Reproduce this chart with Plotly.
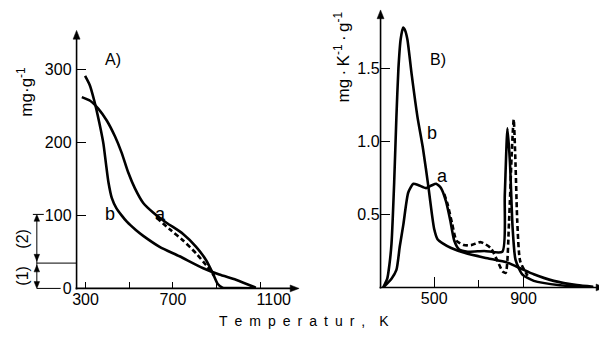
import plotly.graph_objects as go

W, H = 607, 342
OFF = 8  # page body margin offset in the browser

# ---------------- data ----------------
# Panel A: mass (mg/g) vs temperature (K)
A_b_T = [298, 320, 340, 355, 370, 382, 393, 405, 420, 441, 465, 490, 530, 564, 639, 730, 836, 912, 988, 1079]
A_b_v = [291, 278, 257, 238, 217, 198, 172, 145, 124, 110, 100, 91, 80, 72, 57, 44, 28, 19, 12, 1]

A_a_T = [283, 321, 359, 397, 435, 465, 495, 526, 564, 609, 670, 745, 806, 851, 882, 905, 927, 1000, 1080]
A_a_v = [262, 257, 246, 230, 208, 186, 159, 137, 117, 104, 90, 75, 57, 39, 21, 6, 1, 0.5, 0]

A_dash_T = [624, 685, 745, 806, 851, 889]
A_dash_v = [97, 81, 66, 48, 32, 17]

A_xticks = [300, 700, 1100]
A_xlabels = ["300", "700", "\u2007\u2007\u20071100"]
A_xminor = [500, 900]
A_yticks = [0, 100, 200, 300]
A_ylabels = ["0", "100", "200", "300"]

# Panel B: rate (mg/K/g) vs temperature (K)
B_b_T = [272, 290, 300, 309, 321, 331, 340, 350, 361, 370, 380, 400, 425, 450, 475, 490, 500, 515, 540, 576, 650, 739, 828, 887, 946, 1035, 1139, 1212]
B_b_v = [0, 0.06, 0.16, 0.30, 0.72, 1.17, 1.50, 1.70, 1.78, 1.76, 1.70, 1.45, 1.17, 0.95, 0.68, 0.50, 0.40, 0.33, 0.30, 0.27, 0.23, 0.20, 0.17, 0.13, 0.09, 0.045, 0.016, 0.005]

B_a_T = [272, 309, 331, 346, 362, 384, 407, 430, 464, 490, 509, 531, 553, 572, 590, 612, 650, 724, 805, 816, 828, 839, 851, 864, 894, 946, 1064, 1212]
B_a_v = [0, 0.06, 0.12, 0.28, 0.43, 0.65, 0.71, 0.70, 0.68, 0.70, 0.71, 0.68, 0.59, 0.46, 0.32, 0.26, 0.245, 0.25, 0.245, 0.63, 1.09, 0.86, 0.41, 0.19, 0.09, 0.045, 0.015, 0]

B_dash_T = [545, 560, 580, 600, 633, 665, 709, 753, 784, 806, 820, 835, 848, 856, 864, 872, 885, 918]
B_dash_v = [0.64, 0.57, 0.44, 0.32, 0.29, 0.29, 0.31, 0.27, 0.18, 0.11, 0.10, 0.45, 0.95, 1.15, 0.85, 0.45, 0.18, 0.08]

B_xticks = [500, 900]
B_xlabels = ["500", "900"]
B_xminor = [700]
B_yticks = [0.5, 1.0, 1.5]
B_ylabels = ["0.5", "1.0", "1.5"]

# ---------------- figure ----------------
FONT = "Liberation Sans"
LW = 2.6
line = dict(color="black", width=LW, shape="spline", smoothing=0.6)
dline = dict(color="black", width=LW, shape="spline", smoothing=0.6, dash="5px,3px")

fig = go.Figure()
fig.add_trace(go.Scatter(x=A_b_T, y=A_b_v, mode="lines", line=line, xaxis="x", yaxis="y"))
fig.add_trace(go.Scatter(x=A_a_T, y=A_a_v, mode="lines", line=line, xaxis="x", yaxis="y"))
fig.add_trace(go.Scatter(x=A_dash_T, y=A_dash_v, mode="lines", line=dline, xaxis="x", yaxis="y"))
fig.add_trace(go.Scatter(x=B_b_T, y=B_b_v, mode="lines", line=line, xaxis="x2", yaxis="y2"))
fig.add_trace(go.Scatter(x=B_a_T, y=B_a_v, mode="lines", line=line, xaxis="x2", yaxis="y2"))
fig.add_trace(go.Scatter(x=B_dash_T, y=B_dash_v, mode="lines", line=dline, xaxis="x2", yaxis="y2"))


def px(x):
    return (x - OFF) / W


def py(y):
    return 1 - (y - OFF) / H


tickfont = dict(family=FONT, size=16, color="black")
common = dict(showgrid=False, zeroline=False, showline=False, ticks="inside",
              tickcolor="black", tickwidth=1, tickfont=tickfont, fixedrange=True)

fig.update_layout(
    width=W, height=H, autosize=False,
    margin=dict(l=0, r=0, t=0, b=0),
    paper_bgcolor="white", plot_bgcolor="white",
    showlegend=False,
    xaxis=dict(domain=[px(73), px(295)], range=[259, 1268], anchor="y",
               tickmode="array", tickvals=A_xticks, ticktext=A_xlabels, ticklen=6,
               minor=dict(tickmode="array", tickvals=A_xminor, ticks="inside", ticklen=6,
                          tickcolor="black", showgrid=False), **common),
    yaxis=dict(domain=[py(296), py(33)], range=[0, 350.7], anchor="x", ticklabelstandoff=4,
               tickmode="array", tickvals=A_yticks, ticktext=A_ylabels, ticklen=9, **common),
    xaxis2=dict(domain=[px(379), px(603)], range=[260, 1256], anchor="y2",
                tickmode="array", tickvals=B_xticks, ticktext=B_xlabels, ticklen=10,
                minor=dict(tickmode="array", tickvals=B_xminor, ticks="inside", ticklen=7,
                           tickcolor="black", showgrid=False), **common),
    yaxis2=dict(domain=[py(295), py(12)], range=[0, 1.887], anchor="x2",
                tickmode="array", tickvals=B_yticks, ticktext=B_ylabels, ticklen=9, **common),
)

shapes = []


def seg(x0, y0, x1, y1, w=1.0):
    shapes.append(dict(type="line", xref="paper", yref="paper",
                       x0=px(x0), x1=px(x1), y0=py(y0), y1=py(y1),
                       line=dict(color="black", width=w)))


def head(tx, ty, direction, length=9, half=3.5):
    # filled triangular arrowhead, tip at (tx, ty) in page pixels
    if direction == "up":
        pts = [(tx, ty), (tx - half, ty + length), (tx + half, ty + length)]
    elif direction == "down":
        pts = [(tx, ty), (tx - half, ty - length), (tx + half, ty - length)]
    else:  # right
        pts = [(tx, ty), (tx - length, ty - half), (tx - length, ty + half)]
    path = "M " + " L ".join(f"{px(a):.5f},{py(b):.5f}" for a, b in pts) + " Z"
    shapes.append(dict(type="path", xref="paper", yref="paper", path=path,
                       fillcolor="black", line=dict(color="black", width=0.5)))


# axis lines with arrowheads
seg(73, 297, 73, 38, 1.6)
head(73, 31, "up")
seg(72, 296, 290, 296, 1.6)
head(297, 296, "right")
seg(379, 296, 379, 17, 1.6)
head(379, 10, "up")
seg(378, 295, 598, 295, 1.6)
head(605, 295, "right")

# bracket (1)/(2)
seg(33, 222, 33, 294)
head(33, 220, "up", 7, 2.8)
head(33, 268, "down", 7, 2.8)
head(33, 272, "up", 7, 2.8)
head(33, 296, "down", 7, 2.8)
seg(33, 270, 73, 270)
seg(33, 296, 57, 296)
seg(29, 220, 40, 220)

ann = []


def text(x, y, s, size=14, angle=0):
    ann.append(dict(x=px(x), y=py(y), xref="paper", yref="paper", text=s, showarrow=False,
                    textangle=angle, font=dict(family=FONT, size=size, color="black"),
                    xanchor="center", yanchor="middle"))


text(110, 61, "A)", 16)
text(437, 61, "B)", 16)
text(157, 220, "a", 18)
text(107, 220, "b", 18)
text(431, 136, "b", 18)
text(441, 181, "a", 18)
text(21, 94, "mg·g<sup>-1</sup>", 17, -90)
text(340, 58, "mg\u2009·\u2009K<sup>-1</sup>\u2009·\u2009g<sup>-1</sup>", 17, -90)
text(19, 283, "(1)", 16, -90)
text(19, 245, "(2)", 16, -90)
sp = "\u2002"
title = sp.join(list("Temperatur")) + sp + "," + sp + sp + "K"
text(302, 329, title, 14)

fig.update_layout(annotations=ann, shapes=shapes)

fig.write_html("out.html")
